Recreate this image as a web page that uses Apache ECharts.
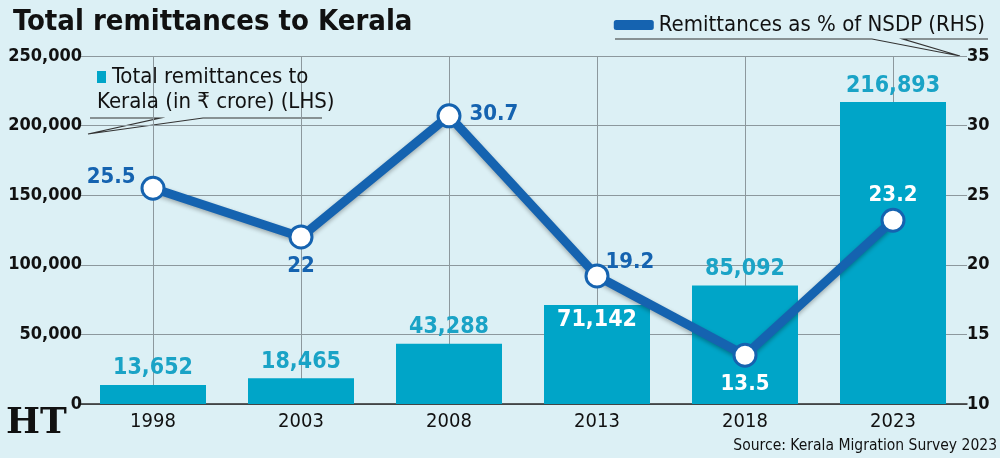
<!DOCTYPE html>
<html>
<head>
<meta charset="utf-8">
<script src="https://cdn.jsdelivr.net/npm/echarts@6/dist/echarts.min.js"></script>
<style>
  html, body { margin: 0; padding: 0; background: #dcf0f5; }
  #chart { width: 1000px; height: 458px; }
</style>
</head>
<body>
<div id="chart"></div>
<script>
const years = ["1998", "2003", "2008", "2013", "2018", "2023"];
const remittances = [13652, 18465, 43288, 71142, 85092, 216893];
const nsdpShare = [25.5, 22, 30.7, 19.2, 13.5, 23.2];
const leftTicks = { min: 0, max: 250000, interval: 50000 };
const rightTicks = { min: 10, max: 35, interval: 5 };

const FONT = '"Liberation Sans Narrow", "DejaVu Sans Condensed", sans-serif';
const BAR_COLOR = "#00a5c8";
const LINE_COLOR = "#1563b0";

const fmt = (v) => Number(v).toLocaleString("en-US");

// per-point label placement for the line
const lineLabels = [
  { position: "left", distance: 5, offset: [0, -11] },
  { position: "bottom", distance: 6 },
  { position: "right", distance: 8, offset: [0, -2] },
  { position: "right", distance: -4, offset: [0, -14] },
  { position: "bottom", distance: 6, color: "#fff" },
  { position: "top", distance: 1, color: "#fff" },
];

const chart = echarts.init(document.getElementById("chart"));

chart.setOption({
  backgroundColor: "#dcf0f5",
  animation: false,
  textStyle: { fontFamily: FONT },
  title: {
    text: "Total remittances to Kerala",
    left: 8,
    top: 3,
    textStyle: { fontFamily: FONT, fontSize: 29, fontWeight: 900, color: "#111" },
  },
  legend: [
    {
      data: ["Total remittances"],
      left: 87,
      top: 61,
      selectedMode: false,
      itemWidth: 0,
      itemHeight: 0,
      formatter: () => "{sq| }{gp| }{t|Total remittances to}\n{t|Kerala (in ₹ crore) (LHS)}",
      textStyle: {
        rich: {
          sq: { width: 9, height: 12, backgroundColor: BAR_COLOR },
          gp: { width: 6 },
          t: { fontFamily: FONT, fontSize: 22, color: "#111", lineHeight: 25 },
        },
      },
    },
    {
      data: [{ name: "Remittances as % of NSDP (RHS)", itemStyle: { color: LINE_COLOR, borderWidth: 0 } }],
      right: 10,
      top: 9,
      selectedMode: false,
      icon: "roundRect",
      itemWidth: 40,
      itemHeight: 10,
      itemGap: 0,
      textStyle: { fontFamily: FONT, fontSize: 22, color: "#111" },
    },
  ],
  grid: { left: 79, right: 33, top: 56, bottom: 54, outerBoundsMode: "none" },
  xAxis: {
    type: "category",
    data: years,
    axisTick: { show: false },
    axisLine: { lineStyle: { color: "#2a2a2a", width: 1.5 } },
    axisLabel: { fontFamily: FONT, fontSize: 20, color: "#111", margin: 8 },
    splitLine: { show: true, alignWithLabel: true, lineStyle: { color: "#8c989d", width: 1 } },
  },
  yAxis: [
    {
      type: "value",
      min: leftTicks.min,
      max: leftTicks.max,
      interval: leftTicks.interval,
      axisLabel: { fontFamily: FONT, fontSize: 18, fontWeight: "bold", color: "#111", margin: -3, formatter: fmt },
      splitLine: { lineStyle: { color: "#8c989d", width: 1 } },
    },
    {
      type: "value",
      min: rightTicks.min,
      max: rightTicks.max,
      interval: rightTicks.interval,
      axisLabel: { fontFamily: FONT, fontSize: 18, fontWeight: "bold", color: "#111", margin: 0 },
      splitLine: { show: false },
    },
  ],
  series: [
    {
      name: "Total remittances",
      type: "bar",
      yAxisIndex: 0,
      barWidth: 106,
      itemStyle: { color: BAR_COLOR },
      data: remittances.map((v, i) =>
        i === 3
          ? { value: v, label: { position: "insideTop", distance: 4, color: "#fff" } }
          : v
      ),
      label: {
        show: true,
        position: "top",
        distance: 5,
        fontFamily: FONT,
        fontSize: 23,
        fontWeight: "bold",
        color: "#1aa3c6",
        formatter: (p) => fmt(p.value),
      },
      z: 2,
    },
    {
      name: "Remittances as % of NSDP (RHS)",
      type: "line",
      yAxisIndex: 1,
      symbol: "circle",
      symbolSize: 22,
      lineStyle: {
        color: LINE_COLOR,
        width: 9,
        shadowColor: "rgba(0,0,0,0.3)",
        shadowBlur: 4,
        shadowOffsetY: 2,
      },
      itemStyle: { color: "#fff", borderColor: LINE_COLOR, borderWidth: 3 },
      label: {
        show: true,
        fontFamily: FONT,
        fontSize: 22,
        fontWeight: "bold",
        color: LINE_COLOR,
      },
      data: nsdpShare.map((v, i) => ({ value: v, label: lineLabels[i] })),
      z: 5,
    },
  ],
  graphic: [
    // leader line under the LHS legend
    {
      type: "polyline",
      shape: { points: [[90, 118], [160, 118], [88, 134], [203, 118], [322, 118]] },
      style: { stroke: "#333", lineWidth: 1.2, fill: null },
    },
    // leader line under the RHS legend
    {
      type: "polyline",
      shape: { points: [[615, 39], [872, 39], [960, 56], [903, 39], [988, 39]] },
      style: { stroke: "#333", lineWidth: 1.2, fill: null },
    },
    {
      type: "text",
      left: 6,
      top: 406,
      style: { text: "HT", font: 'bold 36px "DejaVu Serif", serif', fill: "#111" },
    },
    {
      type: "text",
      right: 3,
      top: 438,
      style: { text: "Source: Kerala Migration Survey 2023", font: '15.5px ' + FONT, fill: "#111" },
    },
  ],
});

window.addEventListener("resize", () => chart.resize());
</script>
</body>
</html>
